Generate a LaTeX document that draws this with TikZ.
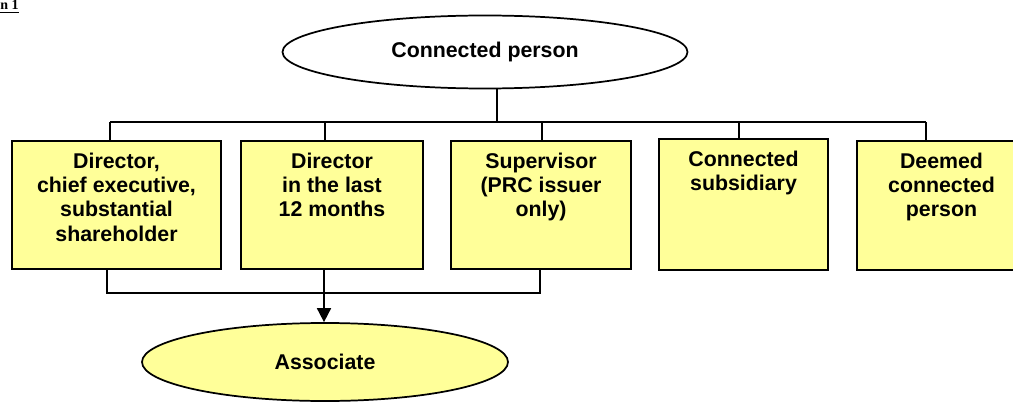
\documentclass[tikz,border=0pt]{standalone}
\usepackage{fontspec}
\setmainfont{Liberation Sans}
\newfontfamily\serifbold{Liberation Serif}
\usetikzlibrary{shapes.geometric,arrows.meta}
\definecolor{boxyellow}{RGB}{255,255,153}
\tikzset{
  line/.style={line width=1.3pt, draw=black},
  yelbox/.style={draw=black, line width=1.3pt, fill=boxyellow, rectangle, inner sep=0pt},
  boxtext/.style={anchor=north, inner sep=0pt, align=center, font=\fontsize{16}{18.2}\selectfont\bfseries},
  oval/.style={draw=black, line width=1.3pt, ellipse, inner sep=0pt, font=\fontsize{16}{18.2}\selectfont\bfseries},
}
\begin{document}
\begin{tikzpicture}[x=0.75pt,y=-0.75pt]
\clip (0,0) rectangle (1013,403);
\fill[white] (0,0) rectangle (1013,403);

\node[anchor=base west, inner sep=0pt, font=\serifbold\fontsize{10.5}{12}\selectfont\bfseries] (title) at (0,10) {\underline{n 1}};

% top ellipse
\node[oval, fill=white, minimum width=405*0.75pt, minimum height=73*0.75pt] (cp) at (485,52) {Connected person};

% boxes
\node[yelbox, minimum width=209*0.75pt, minimum height=128*0.75pt] (b1) at (116.5,205) {};
\node[yelbox, minimum width=182*0.75pt, minimum height=128*0.75pt] (b2) at (332,205) {};
\node[yelbox, minimum width=180*0.75pt, minimum height=128*0.75pt] (b3) at (541,205) {};
\node[yelbox, minimum width=169*0.75pt, minimum height=131*0.75pt] (b4) at (743.5,204.5) {};
\node[yelbox, minimum width=169*0.75pt, minimum height=129*0.75pt] (b5) at (941.5,205.5) {};

\node[boxtext] (t1) at ([yshift=-12.5*0.75pt]b1.north) {Director,\\chief executive,\\substantial\\shareholder};
\node[boxtext] (t2) at ([yshift=-12.5*0.75pt]b2.north) {Director\\in the last\\12 months};
\node[boxtext] (t3) at ([yshift=-12.5*0.75pt]b3.north) {Supervisor\\(PRC issuer\\only)};
\node[boxtext] (t4) at ([yshift=-12.5*0.75pt]b4.north) {Connected\\subsidiary};
\node[boxtext] (t5) at ([yshift=-12.5*0.75pt]b5.north) {Deemed\\connected\\person};

% Associate ellipse
\node[oval, fill=boxyellow, minimum width=366*0.75pt, minimum height=78*0.75pt] (as) at (325,362) {Associate};

% top bus
\coordinate (stem) at (497,122);
\coordinate (d1) at (110,122);
\coordinate (d2) at (325,122);
\coordinate (d3) at (542,122);
\coordinate (d4) at (739,122);
\coordinate (d5) at (926,122);
\draw[line] (cp.south -| stem) -- (stem);
\draw[line] (d1) -- (d5);
\draw[line] (d1) -- (d1 |- b1.north);
\draw[line] (d2) -- (d2 |- b2.north);
\draw[line] (d3) -- (d3 |- b3.north);
\draw[line] (d4) -- (d4 |- b4.north);
\draw[line] (d5) -- (d5 |- b5.north);

% bottom bus
\coordinate (u1) at (107,293);
\coordinate (u2) at (324,293);
\coordinate (u3) at (540,293);
\draw[line] (u1 |- b1.south) -- (u1) -- (u3) -- (u3 |- b3.south);
\draw[line] (u2 |- b2.south) -- (u2);
\draw[line, -{Triangle[width=14*0.75pt,length=14*0.75pt]}] (u2) -- (u2 |- as.north);
\end{tikzpicture}
\end{document}
